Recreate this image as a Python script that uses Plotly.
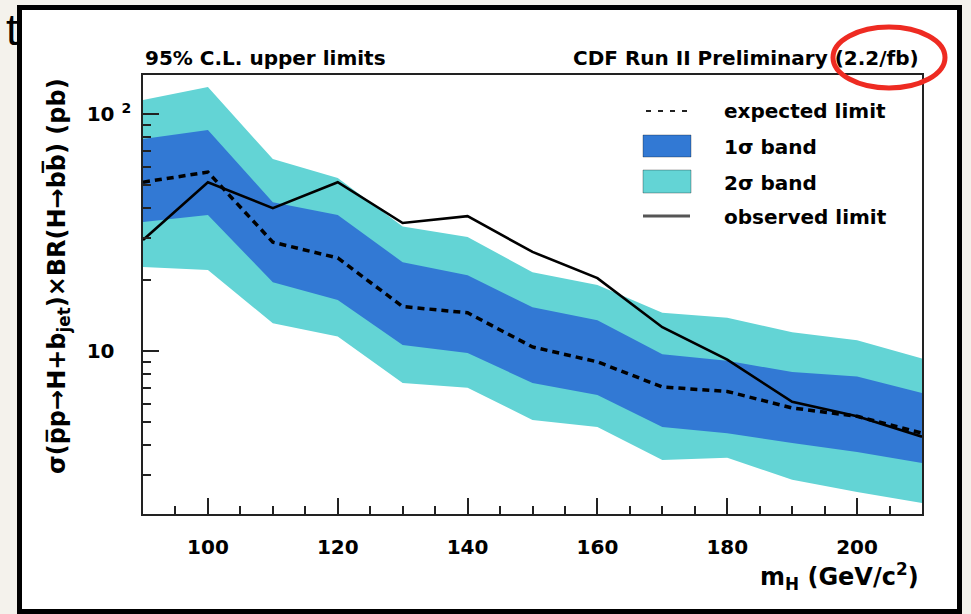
import plotly.graph_objects as go

# ---------------- data ----------------
mass = [90, 100, 110, 120, 130, 140, 150, 160, 170, 180, 190, 200, 210]
observed = [29.4, 51.6, 40.1, 51.6, 34.7, 37.1, 26.2, 20.3, 12.6, 9.2, 6.1, 5.3, 4.35]
expected = [51.6, 56.9, 28.8, 24.7, 15.4, 14.5, 10.4, 9.0, 7.05, 6.75, 5.75, 5.3, 4.5]
band1_hi = [78.5, 85.6, 42.5, 37.5, 23.7, 20.9, 15.3, 13.5, 9.7, 9.1, 8.15, 7.8, 6.65]
band1_lo = [35.0, 37.5, 19.5, 16.4, 10.6, 9.8, 7.33, 6.52, 4.78, 4.5, 4.09, 3.75, 3.37]
band2_hi = [114.6, 130.0, 64.6, 53.7, 33.5, 30.3, 21.5, 19.0, 14.5, 13.8, 12.0, 11.1, 9.3]
band2_lo = [22.6, 22.0, 13.1, 11.5, 7.33, 7.0, 5.12, 4.78, 3.47, 3.54, 2.86, 2.54, 2.28]

x_tickvals = [100, 120, 140, 160, 180, 200]
x_ticktext = ["100", "120", "140", "160", "180", "200"]
y_tickvals = [10, 100]
y_ticktext = ["10<sup>\u2002\u2007</sup>", "10<sup>\u20022</sup>"]
y_minor = [2, 3, 4, 5, 6, 7, 8, 9, 20, 30, 40, 50, 60, 70, 80, 90]

legend_labels = ["expected limit", "1\u03c3 band", "2\u03c3 band", "observed limit"]

C1 = "#3279d4"
C2 = "#63d4d5"
FONT = "DejaVu Sans"

fig = go.Figure()

# 2 sigma band
fig.add_trace(go.Scatter(
    x=mass + mass[::-1], y=band2_hi + band2_lo[::-1],
    fill="toself", fillcolor=C2, line=dict(width=0), mode="lines",
    showlegend=False, hoverinfo="skip"))
# 1 sigma band
fig.add_trace(go.Scatter(
    x=mass + mass[::-1], y=band1_hi + band1_lo[::-1],
    fill="toself", fillcolor=C1, line=dict(width=0), mode="lines",
    showlegend=False, hoverinfo="skip"))
# expected
fig.add_trace(go.Scatter(
    x=mass, y=expected, mode="lines",
    line=dict(color="black", width=3.5, dash="7px,5px"),
    showlegend=False))
# observed
fig.add_trace(go.Scatter(
    x=mass, y=observed, mode="lines",
    line=dict(color="black", width=2.6),
    showlegend=False))

L, R, T, B = 143, 49, 75, 100
W, H = 971, 614
PW, PH = W - L - R, H - T - B


def px(x):
    return (x - L) / PW


def py(y):
    return (H - B - y) / PH


shapes = []
# outer white page with thick black frame
shapes.append(dict(type="rect", xref="paper", yref="paper",
                   x0=px(19.5), x1=px(959.5), y0=py(611.5), y1=py(7.5),
                   fillcolor="white", line=dict(color="black", width=5),
                   layer="below"))
# red ellipse highlight
shapes.append(dict(type="circle", xref="paper", yref="paper",
                   x0=px(833), x1=px(945), y0=py(88), y1=py(27),
                   line=dict(color="#ee2b22", width=5), layer="above"))
# manual legend symbols
shapes.append(dict(type="line", xref="paper", yref="paper",
                   x0=px(646), x1=px(692), y0=py(111), y1=py(111),
                   line=dict(color="#222", width=2, dash="5px,7px")))
shapes.append(dict(type="rect", xref="paper", yref="paper",
                   x0=px(643), x1=px(691), y0=py(157), y1=py(135),
                   fillcolor=C1, line=dict(color="rgba(0,0,0,0.3)", width=1)))
shapes.append(dict(type="rect", xref="paper", yref="paper",
                   x0=px(643), x1=px(691), y0=py(193), y1=py(170),
                   fillcolor=C2, line=dict(color="rgba(0,0,0,0.3)", width=1)))
shapes.append(dict(type="line", xref="paper", yref="paper",
                   x0=px(643), x1=px(690), y0=py(216), y1=py(216),
                   line=dict(color="#555", width=3)))

annotations = []
tf = dict(family=FONT, size=20, color="black", weight="bold")
annotations.append(dict(text="95% C.L. upper limits", xref="paper", yref="paper",
                        x=px(143), y=py(58), xanchor="left", yanchor="middle",
                        showarrow=False, font=tf))
annotations.append(dict(text="CDF Run II Preliminary (2.2/fb)", xref="paper", yref="paper",
                        x=px(921), y=py(58), xanchor="right", yanchor="middle",
                        showarrow=False, font=tf))
annotations.append(dict(text="m<sub>H</sub> (GeV/c<sup>2</sup>)", xref="paper", yref="paper",
                        x=px(921), y=py(576), xanchor="right", yanchor="middle",
                        showarrow=False, font=dict(family=FONT, size=24, color="black", weight="bold")))
annotations.append(dict(text="\u03c3(p\u0305p\u2192H+b<sub>jet</sub>)\u00d7BR(H\u2192bb\u0305) (pb)",
                        xref="paper", yref="paper", textangle=-90,
                        x=px(57), y=py(276), xanchor="center", yanchor="middle",
                        showarrow=False, font=dict(family=FONT, size=24, color="black", weight="bold")))
for lab, yy in zip(legend_labels, [111, 147, 183, 217]):
    annotations.append(dict(text=lab, xref="paper", yref="paper",
                            x=px(722), y=py(yy), xanchor="left", yanchor="middle",
                            showarrow=False, font=tf))
annotations.append(dict(text="t", xref="paper", yref="paper",
                        x=px(4), y=py(30), xanchor="left", yanchor="middle",
                        showarrow=False,
                        font=dict(family="Liberation Sans", size=44, color="black")))

axis_common = dict(showline=True, linecolor="#222", linewidth=1.5, mirror=True,
                   ticks="inside", tickcolor="#222", tickwidth=1.5, ticklen=16,
                   showgrid=False, zeroline=False,
                   tickfont=dict(family=FONT, size=20, color="black", weight="bold"))

fig.update_layout(
    width=W, height=H,
    margin=dict(l=L, r=R, t=T, b=B, pad=0),
    paper_bgcolor="#f4f2ec",
    plot_bgcolor="rgba(0,0,0,0)",
    showlegend=False,
    shapes=shapes,
    annotations=annotations,
    xaxis=dict(range=[90, 210], tickmode="array", tickvals=x_tickvals, ticktext=x_ticktext,
               ticklabelstandoff=14,
               minor=dict(ticks="inside", dtick=5, tick0=90, ticklen=8, tickwidth=1.5,
                          tickcolor="#222"),
               **axis_common),
    yaxis=dict(type="log", range=[0.312, 2.165], tickmode="array",
               tickvals=y_tickvals, ticktext=y_ticktext, ticklabelstandoff=6,
               minor=dict(ticks="inside", tickmode="array", tickvals=y_minor, ticklen=8,
                          tickwidth=1.5, tickcolor="#222"),
               **axis_common),
)

fig.write_html("out.html")
